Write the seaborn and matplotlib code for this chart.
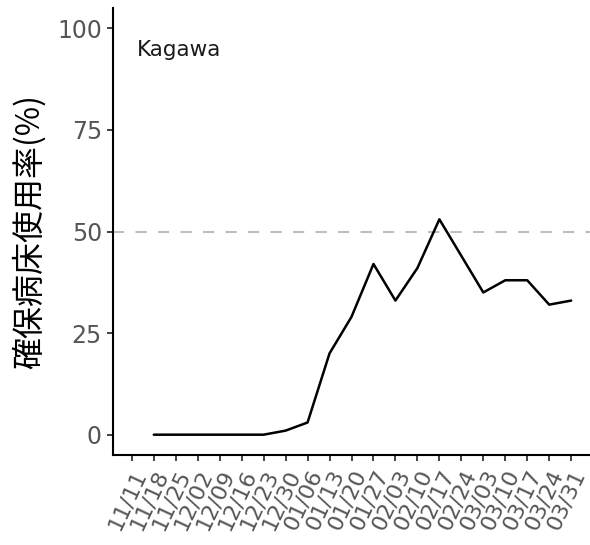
import pandas as pd
import matplotlib
matplotlib.use('Agg')
import matplotlib.pyplot as plt
import matplotlib.transforms as mtransforms
import seaborn as sns

# weekly bed occupancy, Kagawa
dates = ['2020-11-18', '2020-11-25', '2020-12-02', '2020-12-09', '2020-12-16',
         '2020-12-23', '2020-12-30', '2021-01-06', '2021-01-13', '2021-01-20',
         '2021-01-27', '2021-02-03', '2021-02-10', '2021-02-17', '2021-02-24',
         '2021-03-03', '2021-03-10', '2021-03-17', '2021-03-24', '2021-03-31']
usage = [0, 0, 0, 0, 0, 0, 1, 3, 20, 29, 42, 33, 41, 53, 44, 35, 38, 38, 32, 33]

tick_dates = pd.date_range('2020-11-11', '2021-03-31', freq='7D')
tick_labels = ['11/11', '11/18', '11/25', '12/02', '12/09', '12/16', '12/23',
               '12/30', '01/06', '01/13', '01/20', '01/27', '02/03', '02/10',
               '02/17', '02/24', '03/03', '03/10', '03/17', '03/24', '03/31']
y_ticks = [0, 25, 50, 75, 100]
threshold = 50
region = 'Kagawa'
ylabel = '確保病床使用率(%)'

df = pd.DataFrame({'date': pd.to_datetime(dates), 'usage': usage})

sns.set_style('ticks')
plt.rcParams['font.family'] = ['DejaVu Sans']

fig = plt.figure(figsize=(5.9, 5.45), dpi=100)
ax = fig.add_axes([113 / 590, 1 - 455 / 545, 477 / 590, 447 / 545])

ax.axhline(threshold, color='#BEBEBE', lw=1.5, ls=(0, (5.4, 5.4)), zorder=1)
sns.lineplot(data=df, x='date', y='usage', color='black', lw=1.8, ax=ax, zorder=2)

ax.set_ylim(-5, 105)
ax.set_yticks(y_ticks)
ax.set_xlim(tick_dates[0] - pd.Timedelta(days=6), tick_dates[-1] + pd.Timedelta(days=6))
ax.set_xticks(tick_dates)
ax.set_xticklabels(tick_labels, rotation=65, ha='right', va='top',
                   rotation_mode='anchor', fontsize=16, color='#555555')
shift = mtransforms.ScaledTranslation(2 / 100, 0, fig.dpi_scale_trans)
for lab in ax.get_xticklabels():
    lab.set_transform(lab.get_transform() + shift)
ax.tick_params(axis='y', labelsize=17, labelcolor='#555555')
ax.tick_params(length=4.5, width=1.3, color='#333333')

for s in ['top', 'right']:
    ax.spines[s].set_visible(False)
for s in ['left', 'bottom']:
    ax.spines[s].set_linewidth(1.5)
    ax.spines[s].set_color('black')

ax.set_xlabel('')
ax.set_ylabel(ylabel, fontsize=23, family=['Noto Sans CJK JP', 'DejaVu Sans'],
              color='black', labelpad=8)

ax.text(0.05, 0.906, region, transform=ax.transAxes, ha='left', va='center',
        fontsize=15.5, color='#1A1A1A')

fig.savefig('out.png', dpi=100, facecolor='white')
